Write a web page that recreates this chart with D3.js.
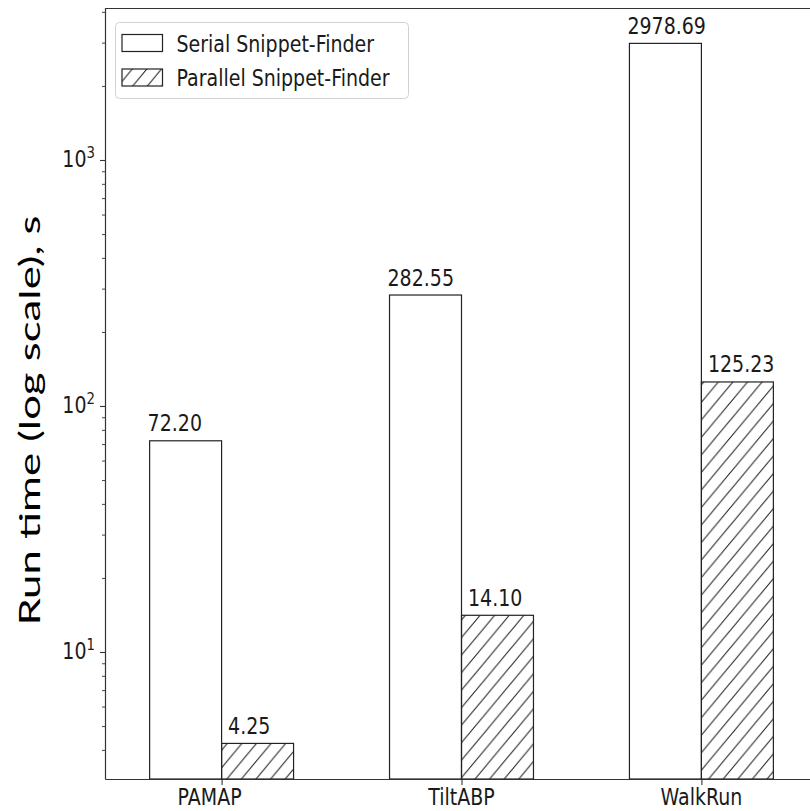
<!DOCTYPE html>
<html>
<head>
<meta charset="utf-8">
<script src="https://cdn.jsdelivr.net/npm/d3@7"></script>
<style>
  html, body { margin: 0; padding: 0; background: #fff; }
  svg { display: block; }
  text { font-family: "DejaVu Sans", sans-serif; fill: #1a1a1a; }
</style>
</head>
<body>
<svg id="chart" width="810" height="811"></svg>
<script>
// Run times (seconds) per dataset for the two Snippet-Finder variants
const categories = ["PAMAP", "TiltABP", "WalkRun"];
const serialTimes = [72.20, 282.55, 2978.69];
const parallelTimes = [4.25, 14.10, 125.23];
const seriesNames = ["Serial Snippet-Finder", "Parallel Snippet-Finder"];
const yMajorTicks = [10, 100, 1000];
const yMajorExponents = ["1", "2", "3"];
const yLabel = "Run time (log scale), s";

// Layout
const W = 810, H = 811;
const plot = { left: 105, right: 818, top: 8, bottom: 779 };
const textStretch = 1.2;          // glyphs are drawn taller than wide
const fontSize = 19;
const barWidth = 0.3;

const svg = d3.select("#chart");

const x = d3.scaleLinear()
  .domain([-0.486, 2.486])
  .range([plot.left, plot.right]);

const y = d3.scaleLog()
  .domain([3.046, 4148])
  .range([plot.bottom, plot.top]);

// Diagonal hatch for the parallel bars
const defs = svg.append("defs");
const hw = 14.6, hh = hw * textStretch;
defs.append("pattern")
  .attr("id", "hatch")
  .attr("patternUnits", "userSpaceOnUse")
  .attr("width", hw).attr("height", hh)
  .append("path")
  .attr("d", `M0,${hh} L${hw},0 M${-hw * 0.2},${hh * 0.2} L${hw * 0.2},${-hh * 0.2} M${hw * 0.8},${hh * 1.2} L${hw * 1.2},${hh * 0.8}`)
  .attr("stroke", "#111")
  .attr("stroke-width", 1)
  .attr("fill", "none");

// Text helper: vertically stretched DejaVu text
function stretchedText(parent, px, py, anchor) {
  return parent.append("g")
    .attr("transform", `translate(${px},${py}) scale(1,${textStretch})`)
    .append("text")
    .attr("text-anchor", anchor)
    .attr("font-size", fontSize);
}

// Bars
const series = [
  { name: seriesNames[0], values: serialTimes, offset: -barWidth, fill: "#fff", labelDx: -2 },
  { name: seriesNames[1], values: parallelTimes, offset: 0, fill: "url(#hatch)", labelDx: 6.5 }
];

const bars = svg.append("g");
series.forEach(s => {
  s.values.forEach((v, i) => {
    const x0 = x(i + s.offset);
    const w = x(i + s.offset + barWidth) - x0;
    bars.append("rect")
      .attr("x", x0)
      .attr("y", y(v))
      .attr("width", w)
      .attr("height", plot.bottom - y(v))
      .attr("fill", s.fill)
      .attr("stroke", "#222")
      .attr("stroke-width", 1.2);
    stretchedText(bars, x0 + s.labelDx, y(v) - 9.5, "start")
      .text(v.toFixed(2));
  });
});

// Y axis (log) with minor ticks
const minorTicks = [];
for (let e = 0; e <= 3; e++) {
  for (let m = 2; m <= 9; m++) {
    const v = m * Math.pow(10, e);
    if (v >= y.domain()[0] && v <= y.domain()[1]) minorTicks.push(v);
  }
}

const yAxis = svg.append("g")
  .attr("transform", `translate(${plot.left},0)`)
  .call(d3.axisLeft(y).tickValues(yMajorTicks).tickSize(5).tickSizeOuter(0).tickFormat(""));
yAxis.select(".domain").attr("stroke", "#333").attr("stroke-width", 1.2);
yAxis.selectAll(".tick line").attr("stroke", "#333").attr("stroke-width", 1.1);

const yMinor = svg.append("g")
  .attr("transform", `translate(${plot.left},0)`)
  .call(d3.axisLeft(y).tickValues(minorTicks).tickSize(3).tickSizeOuter(0).tickFormat(""));
yMinor.select(".domain").remove();
yMinor.selectAll(".tick line").attr("stroke", "#333").attr("stroke-width", 0.9);

yMajorTicks.forEach((v, i) => {
  const t = stretchedText(svg, plot.left - 10, y(v) + 7.5, "end");
  t.append("tspan").text("10");
  t.append("tspan").attr("dy", -7.5).attr("font-size", fontSize * 0.7).text(yMajorExponents[i]);
});

// X axis
const labelShift = { PAMAP: -12 };
const xAxis = svg.append("g")
  .attr("transform", `translate(0,${plot.bottom})`)
  .call(d3.axisBottom(x).tickValues(d3.range(categories.length)).tickSize(6).tickSizeOuter(0).tickFormat(""));
xAxis.select(".domain").attr("stroke", "#333").attr("stroke-width", 1.2);
xAxis.selectAll(".tick line").attr("stroke", "#333").attr("stroke-width", 1.1);

categories.forEach((c, i) => {
  stretchedText(svg, x(i) + (labelShift[c] || 0), 805, "middle").text(c);
});

// Top and right spines
svg.append("line")
  .attr("x1", plot.left).attr("x2", plot.right)
  .attr("y1", plot.top + 0.5).attr("y2", plot.top + 0.5)
  .attr("stroke", "#333").attr("stroke-width", 1.2);
svg.append("line")
  .attr("x1", plot.right + 0.5).attr("x2", plot.right + 0.5)
  .attr("y1", plot.top).attr("y2", plot.bottom)
  .attr("stroke", "#333").attr("stroke-width", 1.2);

// Legend
const legend = svg.append("g");
legend.append("rect")
  .attr("x", 115.5).attr("y", 22.5)
  .attr("width", 293).attr("height", 76)
  .attr("rx", 4)
  .attr("fill", "#fff").attr("fill-opacity", 0.8)
  .attr("stroke", "#d2d2d2").attr("stroke-width", 1);

const legendRows = [34.5, 69];
series.forEach((s, i) => {
  legend.append("rect")
    .attr("x", 122).attr("y", legendRows[i])
    .attr("width", 40.5).attr("height", 17)
    .attr("fill", s.fill)
    .attr("stroke", "#222").attr("stroke-width", 1.2);
  stretchedText(legend, 176.5, legendRows[i] + 17, "start").text(s.name);
});

// Y axis title
svg.append("text")
  .attr("transform", `translate(40,420.5) rotate(-90)`)
  .attr("text-anchor", "middle")
  .attr("font-family", "Lato, 'Open Sans', sans-serif")
  .attr("font-size", 28)
  .attr("textLength", 410)
  .attr("lengthAdjust", "spacingAndGlyphs")
  .style("font-family", "Lato, 'Open Sans', sans-serif")
  .style("fill", "#000")
  .text(yLabel);
</script>
</body>
</html>
